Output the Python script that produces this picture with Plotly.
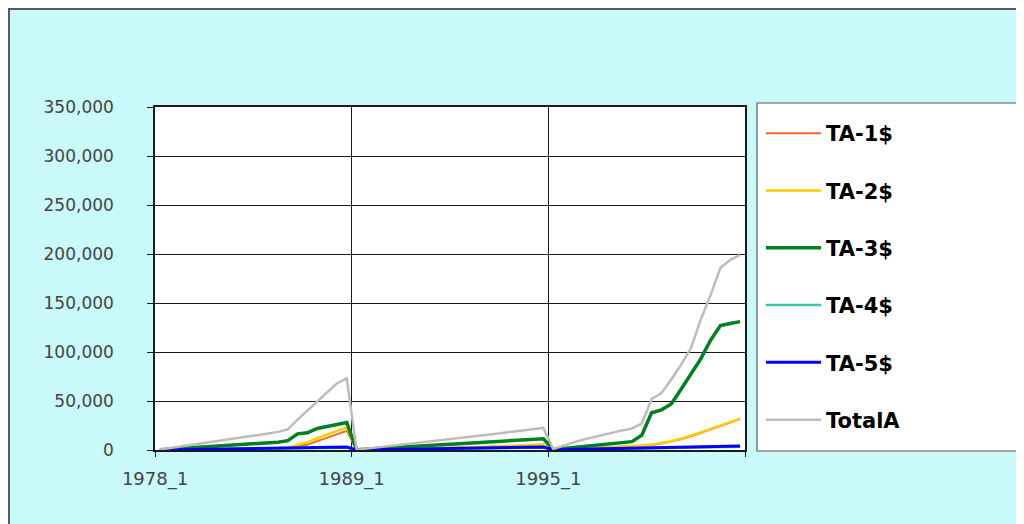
import plotly.graph_objects as go

# x categories: three survey blocks, 20 periods each
segment_labels = ["1978_1", "1989_1", "1995_1"]
points_per_segment = 20

# series values, one block after another
ta1 = [100, 200, 300, 400, 500, 600, 700, 800, 900, 1000, 1100, 1300, 1500, 2000, 4000, 5500, 9000, 12500, 16000, 19500,
       100, 250, 400, 550, 700, 850, 1000, 1200, 1400, 1600, 1800, 2000, 2200, 2400, 2700, 3000, 3300, 3600, 3900, 4200,
       200, 500, 900, 1300, 1700, 2100, 2600, 3100, 3600, 4300, 5200, 6500, 8500, 11000, 14000, 17500, 21000, 24500, 28000, 31500]
ta2 = [100, 200, 300, 400, 500, 600, 700, 800, 900, 1000, 1200, 1400, 1700, 2300, 5000, 8000, 12000, 16000, 19500, 23000,
       100, 300, 500, 700, 900, 1100, 1300, 1600, 1900, 2200, 2500, 2800, 3100, 3400, 3700, 4000, 4300, 4700, 5100, 5500,
       200, 600, 1000, 1400, 1800, 2200, 2700, 3200, 3800, 4500, 5500, 7000, 9000, 11500, 14500, 18000, 21500, 25000, 28500, 32000]
ta3 = [300, 900, 1500, 2100, 2700, 3300, 3900, 4500, 5100, 5700, 6400, 7100, 8000, 9500, 16500, 17500, 22000, 24000, 26000, 28000,
       200, 700, 1300, 1900, 2500, 3100, 3700, 4300, 4900, 5500, 6100, 6700, 7300, 7900, 8500, 9100, 9700, 10300, 10900, 11500,
       500, 1500, 2500, 3500, 4500, 5500, 6500, 7500, 8500, 15000, 38000, 41000, 47000, 62000, 78000, 93000, 112000, 127000, 129000, 131000]
ta4 = [80, 200, 320, 440, 560, 680, 800, 920, 1040, 1160, 1280, 1400, 1520, 1640, 1760, 1880, 2000, 2120, 2240, 2400,
       80, 200, 320, 440, 560, 680, 800, 920, 1040, 1160, 1280, 1400, 1520, 1640, 1760, 1880, 2000, 2120, 2240, 2400,
       160, 320, 480, 640, 800, 960, 1120, 1280, 1440, 1600, 1760, 1920, 2080, 2240, 2400, 2560, 2720, 2880, 3040, 3200]
ta5 = [100, 250, 400, 550, 700, 850, 1000, 1150, 1300, 1450, 1600, 1750, 1900, 2050, 2200, 2350, 2500, 2650, 2800, 3000,
       100, 250, 400, 550, 700, 850, 1000, 1150, 1300, 1450, 1600, 1750, 1900, 2050, 2200, 2350, 2500, 2650, 2800, 3000,
       200, 400, 600, 800, 1000, 1200, 1400, 1600, 1800, 2000, 2200, 2400, 2600, 2800, 3000, 3200, 3400, 3600, 3800, 4000]
total_a = [500, 1800, 3300, 4800, 6300, 7800, 9200, 10700, 12200, 13600, 15200, 16800, 18500, 21000, 31000, 40000, 49000, 59000, 68000, 73000,
           300, 1400, 2500, 3700, 4800, 6000, 7100, 8300, 9400, 10600, 11800, 12900, 14100, 15300, 16400, 17600, 18800, 20000, 21200, 22500,
           1000, 4500, 7500, 10500, 13000, 15500, 18000, 20000, 22000, 27000, 52000, 58000, 72000, 87000, 104000, 133000, 158000, 186000, 194000, 199000]

series = [
    ("TA-1$", ta1, "#F26B1D", 2),
    ("TA-2$", ta2, "#FFCC00", 2.5),
    ("TA-3$", ta3, "#008020", 3.5),
    ("TA-4$", ta4, "#33CCAA", 2.5),
    ("TA-5$", ta5, "#0000FF", 3),
    ("TotalA", total_a, "#BFBCB8", 2.5),
]

n_points = points_per_segment * len(segment_labels)
x = list(range(n_points))

# page puts the figure 8px in from the window corner, so work in screen
# pixels and shift by that
OFF = 8
W, H = 1024, 524
L, R, T, B = 155 - OFF, 745 - OFF, 107 - OFF, 450 - OFF


def px_x(v):
    return (v - OFF - L) / (R - L)


def px_y(v):
    return (B - (v - OFF)) / (B - T)


fig = go.Figure()
for i, (name, vals, color, width) in enumerate(series):
    fig.add_trace(go.Scatter(
        x=x, y=vals, mode="lines", name=name,
        line=dict(color=color, width=width),
        legendgroup=f"g{i}",
    ))

tick_pos = [k * points_per_segment - 0.5 for k in range(len(segment_labels))] + [n_points - 0.5]
tick_txt = segment_labels + [""]

fig.update_layout(
    width=W, height=H,
    margin=dict(l=L, r=W - R, t=T, b=H - B),
    paper_bgcolor="white",
    plot_bgcolor="white",
    font=dict(family="DejaVu Sans", color="#444444"),
    xaxis=dict(
        range=[-0.5, n_points - 0.5],
        tickmode="array", tickvals=tick_pos, ticktext=tick_txt,
        showgrid=True, gridcolor="#1a1a1a", gridwidth=1,
        showline=True, linecolor="#1a1a1a", linewidth=1.5, mirror=True,
        ticks="outside", ticklen=5, tickcolor="#1a1a1a",
        tickfont=dict(size=18), ticklabelstandoff=7,
        zeroline=False,
    ),
    yaxis=dict(
        range=[0, 350000], dtick=50000, tickformat=",",
        showgrid=True, gridcolor="#1a1a1a", gridwidth=1,
        showline=True, linecolor="#1a1a1a", linewidth=1.5, mirror=True,
        ticks="outside", ticklen=6, tickcolor="#1a1a1a",
        tickfont=dict(size=17), ticklabelstandoff=30,
        zeroline=False,
    ),
    legend=dict(
        x=px_x(761), xanchor="left", y=px_y(113), yanchor="top",
        bgcolor="rgba(0,0,0,0)", borderwidth=0,
        font=dict(family="DejaVu Sans", size=21, color="black", weight="bold"),
        traceorder="grouped", tracegroupgap=27, itemwidth=55,
    ),
    shapes=[
        # outer chart frame
        dict(type="rect", xref="paper", yref="paper", layer="below",
             x0=px_x(9), x1=px_x(1040), y0=px_y(540), y1=px_y(9),
             fillcolor="#C9F9F9", line=dict(color="#5a5a5a", width=2)),
        # plot area
        dict(type="rect", xref="paper", yref="paper", layer="below",
             x0=0, x1=1, y0=0, y1=1,
             fillcolor="white", line=dict(width=0)),
        # legend box
        dict(type="rect", xref="paper", yref="paper", layer="below",
             x0=px_x(757), x1=px_x(1040), y0=px_y(451), y1=px_y(103),
             fillcolor="white", line=dict(color="#5a5a5a", width=1.2)),
    ],
)

fig.write_html("out.html")
